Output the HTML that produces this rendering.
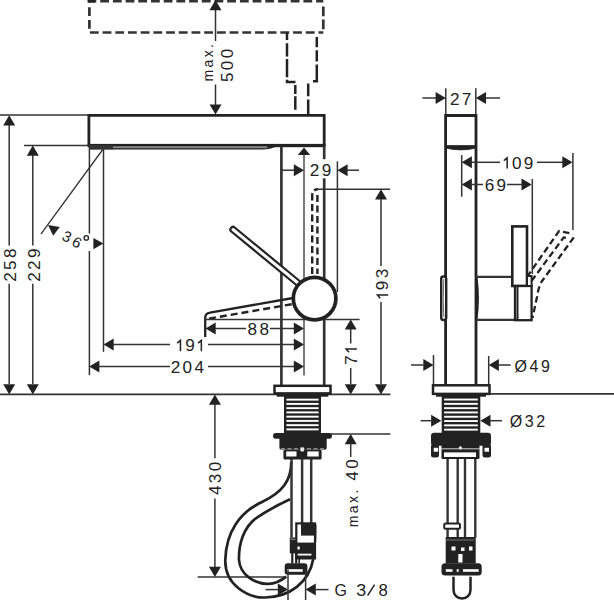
<!DOCTYPE html>
<html><head><meta charset="utf-8"><style>
html,body{margin:0;padding:0;background:#fff;}
svg{display:block;font-family:"Liberation Sans",sans-serif;-webkit-font-smoothing:antialiased;}
</style></head><body>
<svg width="614" height="600" viewBox="0 0 614 600">
<rect width="614" height="600" fill="#fff"/>
<line x1="87.5" y1="1.2" x2="323.3" y2="1.2" stroke="#333" stroke-width="2.7" stroke-dasharray="8.8 3.9"/>
<line x1="89.9" y1="32.5" x2="323.3" y2="32.5" stroke="#333" stroke-width="2.7" stroke-dasharray="8.8 3.9"/>
<line x1="89.4" y1="7.3" x2="89.4" y2="32" stroke="#333" stroke-width="2.7" stroke-dasharray="8.8 3.9"/>
<line x1="323.3" y1="6.5" x2="323.3" y2="32.5" stroke="#333" stroke-width="2.7" stroke-dasharray="9.8 3.2"/>
<rect x="88" y="0" width="7" height="2.6" fill="#222" stroke="none" stroke-width="0" rx="0" />
<path d="M287,32.5 V40 M287,43.2 V56.6 M287,59 V77.2 M287,79.8 V82 H295.5" stroke="#222" stroke-width="2.5" fill="none" />
<path d="M295.3,85 V94 M295.3,96.2 V109.7" stroke="#222" stroke-width="2.5" fill="none" />
<path d="M316.8,36.9 V47.2 M316.8,50.3 V61.4 M316.8,64.6 V81.3 H313" stroke="#222" stroke-width="2.5" fill="none" />
<path d="M308.2,83.5 V96.2 M308.2,99.4 V115" stroke="#222" stroke-width="2.5" fill="none" />
<line x1="215.5" y1="9" x2="215.5" y2="41" stroke="#333" stroke-width="1.5" />
<line x1="215.5" y1="84.5" x2="215.5" y2="105" stroke="#333" stroke-width="1.5" />
<polygon points="215.50,0.00 221.50,10.20 209.50,10.20" fill="#222"/>
<polygon points="215.50,114.60 209.50,104.40 221.50,104.40" fill="#222"/>
<text transform="translate(208.6,62.8) rotate(-90) scale(1.0,1)" x="1.20" y="3.95" text-anchor="middle" font-size="14" letter-spacing="2.4" fill="#222">max.</text>
<g transform="translate(226.4,65.4) rotate(-90)"><text transform="translate(-11.90,0) scale(1.1,1)" y="6.38" text-anchor="middle" font-size="15.6" fill="#222">5</text><text transform="translate(-0.00,0) scale(1.1,1)" y="6.38" text-anchor="middle" font-size="15.6" fill="#222">0</text><text transform="translate(11.90,0) scale(1.1,1)" y="6.38" text-anchor="middle" font-size="15.6" fill="#222">0</text></g>
<path d="M88.9,146 V115.3 H324.2 V146" stroke="#222" stroke-width="2.8" fill="none" />
<rect x="87.6" y="143.9" width="237.9" height="3.3" fill="#222" stroke="none" stroke-width="0" rx="0" />
<path d="M89,148.6 H262 Q271,148.6 279,144.5" stroke="#222" stroke-width="1.9" fill="none" />
<rect x="112" y="146.2" width="155" height="2.0" fill="#888" stroke="none" stroke-width="0" rx="0" />
<rect x="89" y="145" width="24" height="4.3" fill="#333" stroke="none" stroke-width="0" rx="0" />
<line x1="0" y1="115" x2="88.5" y2="115" stroke="#333" stroke-width="1.5" />
<line x1="9.2" y1="124" x2="9.2" y2="245.6" stroke="#333" stroke-width="1.5" />
<line x1="9.2" y1="283.7" x2="9.2" y2="384" stroke="#333" stroke-width="1.5" />
<polygon points="9.20,115.20 15.20,125.40 3.20,125.40" fill="#222"/>
<polygon points="9.20,394.50 3.20,384.30 15.20,384.30" fill="#222"/>
<g transform="translate(9.55,265.15) rotate(-90)"><text transform="translate(-11.90,0) scale(1.1,1)" y="6.38" text-anchor="middle" font-size="15.6" fill="#222">2</text><text transform="translate(-0.00,0) scale(1.1,1)" y="6.38" text-anchor="middle" font-size="15.6" fill="#222">5</text><text transform="translate(11.90,0) scale(1.1,1)" y="6.38" text-anchor="middle" font-size="15.6" fill="#222">8</text></g>
<line x1="24" y1="145.6" x2="88.5" y2="145.6" stroke="#333" stroke-width="1.5" />
<line x1="32.8" y1="155" x2="32.8" y2="245.6" stroke="#333" stroke-width="1.5" />
<line x1="32.8" y1="283.7" x2="32.8" y2="384" stroke="#333" stroke-width="1.5" />
<polygon points="32.80,145.60 38.80,155.80 26.80,155.80" fill="#222"/>
<polygon points="32.80,394.50 26.80,384.30 38.80,384.30" fill="#222"/>
<g transform="translate(33.2,265.15) rotate(-90)"><text transform="translate(-11.90,0) scale(1.1,1)" y="6.38" text-anchor="middle" font-size="15.6" fill="#222">2</text><text transform="translate(-0.00,0) scale(1.1,1)" y="6.38" text-anchor="middle" font-size="15.6" fill="#222">2</text><text transform="translate(11.90,0) scale(1.1,1)" y="6.38" text-anchor="middle" font-size="15.6" fill="#222">9</text></g>
<line x1="0" y1="394.4" x2="390.4" y2="394.4" stroke="#333" stroke-width="1.6" />
<line x1="331" y1="434" x2="390.4" y2="434" stroke="#333" stroke-width="1.5" />
<line x1="89.4" y1="147" x2="89.4" y2="233.5" stroke="#333" stroke-width="1.5" />
<line x1="89.4" y1="251" x2="89.4" y2="375.2" stroke="#333" stroke-width="1.5" />
<line x1="103.5" y1="148" x2="103.5" y2="351.8" stroke="#333" stroke-width="1.5" />
<line x1="103.5" y1="148.5" x2="40.9" y2="234.1" stroke="#333" stroke-width="1.3" />
<polygon points="48,225 59.8,227 53.2,235.8" fill="#222"/>
<polygon points="103.40,243.60 93.40,249.20 93.40,238.00" fill="#222"/>
<text transform="translate(67.2,236.1) rotate(25)" x="0" y="5.8" text-anchor="middle" font-size="15" fill="#222">3</text>
<text transform="translate(77.3,241.7) rotate(30)" x="0" y="5.8" text-anchor="middle" font-size="15" fill="#222">6</text>
<circle cx="86.3" cy="237.9" r="2.2" fill="none" stroke="#222" stroke-width="1.3"/>
<line x1="281.4" y1="147" x2="281.4" y2="386" stroke="#333" stroke-width="2.7" />
<line x1="324.2" y1="146" x2="324.2" y2="159.2" stroke="#333" stroke-width="2.7" />
<line x1="324.2" y1="178.3" x2="324.2" y2="386" stroke="#333" stroke-width="2.7" />
<line x1="304" y1="154" x2="304" y2="375.4" stroke="#333" stroke-width="1.3" />
<polygon points="304.00,147.60 310.20,155.10 297.80,155.10" fill="#222"/>
<line x1="281.4" y1="170.2" x2="294" y2="170.2" stroke="#333" stroke-width="1.5" />
<polygon points="304.00,170.20 293.80,176.20 293.80,164.20" fill="#222"/>
<polygon points="337.40,170.20 347.60,164.20 347.60,176.20" fill="#222"/>
<line x1="347" y1="170.2" x2="359" y2="170.2" stroke="#333" stroke-width="1.5" />
<line x1="337.4" y1="161.4" x2="337.4" y2="292" stroke="#333" stroke-width="1.5" />
<g transform="translate(320.55,169.8) rotate(0)"><text transform="translate(-5.95,0) scale(1.1,1)" y="6.38" text-anchor="middle" font-size="15.6" fill="#222">2</text><text transform="translate(5.95,0) scale(1.1,1)" y="6.38" text-anchor="middle" font-size="15.6" fill="#222">9</text></g>
<path d="M312.2,274 V196 Q312.2,189.3 318,189.3" stroke="#222" stroke-width="2.4" fill="none" stroke-dasharray="7 3.5"/>
<path d="M317.4,195 V274" stroke="#222" stroke-width="2.4" fill="none" stroke-dasharray="7 3.5"/>
<line x1="317" y1="189.2" x2="390" y2="189.2" stroke="#333" stroke-width="1.5" />
<polygon points="381.00,189.20 387.00,199.40 375.00,199.40" fill="#222"/>
<line x1="381" y1="199" x2="381" y2="266" stroke="#333" stroke-width="1.5" />
<line x1="381" y1="302" x2="381" y2="384" stroke="#333" stroke-width="1.5" />
<polygon points="381.00,394.50 375.00,384.30 387.00,384.30" fill="#222"/>
<g transform="translate(381.8,284) rotate(-90)"><path d="M-11.00,6.38 V-4.38 L-14.30,-1.58" stroke="#222" stroke-width="1.5" fill="none"/><text transform="translate(-1.45,0) scale(1.1,1)" y="6.38" text-anchor="middle" font-size="15.6" fill="#222">9</text><text transform="translate(10.45,0) scale(1.1,1)" y="6.38" text-anchor="middle" font-size="15.6" fill="#222">3</text></g>
<path d="M205.2,337 V318 Q205.2,313.2 210,312.6 L293,298" stroke="#222" stroke-width="2.3" fill="none" />
<path d="M209,318.6 L292,304.2" stroke="#222" stroke-width="2.4" fill="none" stroke-dasharray="7 4"/>
<line x1="205" y1="319.4" x2="359.6" y2="319.4" stroke="#333" stroke-width="1.5" />
<polygon points="350.70,319.40 356.70,329.60 344.70,329.60" fill="#222"/>
<line x1="350.7" y1="329" x2="350.7" y2="343.5" stroke="#333" stroke-width="1.5" />
<line x1="350.7" y1="368" x2="350.7" y2="384" stroke="#333" stroke-width="1.5" />
<polygon points="350.70,394.50 344.70,384.30 356.70,384.30" fill="#222"/>
<g transform="translate(350.5,355.8) rotate(-90)"><text transform="translate(-4.50,0) scale(1.1,1)" y="6.38" text-anchor="middle" font-size="15.6" fill="#222">7</text><path d="M6.85,6.38 V-4.38 L3.55,-1.58" stroke="#222" stroke-width="1.5" fill="none"/></g>
<line x1="233" y1="229.5" x2="298" y2="283" stroke="#222" stroke-width="7.4" stroke-linecap="round"/>
<line x1="233" y1="229.5" x2="298" y2="283" stroke="#fff" stroke-width="3.0" stroke-linecap="round"/>
<circle cx="314.6" cy="298.6" r="21.3" fill="#fff" stroke="#222" stroke-width="3.7"/>
<polygon points="205.50,328.50 215.70,322.50 215.70,334.50" fill="#222"/>
<line x1="215" y1="328.5" x2="246" y2="328.5" stroke="#333" stroke-width="1.5" />
<g transform="translate(258.3,328.65) rotate(0)"><text transform="translate(-5.95,0) scale(1.1,1)" y="6.38" text-anchor="middle" font-size="15.6" fill="#222">8</text><text transform="translate(5.95,0) scale(1.1,1)" y="6.38" text-anchor="middle" font-size="15.6" fill="#222">8</text></g>
<line x1="270" y1="328.5" x2="294" y2="328.5" stroke="#333" stroke-width="1.5" />
<polygon points="304.00,328.50 293.80,334.50 293.80,322.50" fill="#222"/>
<polygon points="103.50,344.60 113.70,338.60 113.70,350.60" fill="#222"/>
<line x1="113" y1="344.6" x2="170" y2="344.6" stroke="#333" stroke-width="1.5" />
<g transform="translate(190,344.75) rotate(0)"><path d="M-9.55,6.38 V-4.38 L-12.85,-1.58" stroke="#222" stroke-width="1.5" fill="none"/><text transform="translate(0.00,0) scale(1.1,1)" y="6.38" text-anchor="middle" font-size="15.6" fill="#222">9</text><path d="M11.35,6.38 V-4.38 L8.05,-1.58" stroke="#222" stroke-width="1.5" fill="none"/></g>
<line x1="208" y1="344.6" x2="294" y2="344.6" stroke="#333" stroke-width="1.5" />
<polygon points="304.00,344.60 293.80,350.60 293.80,338.60" fill="#222"/>
<polygon points="89.20,366.40 99.40,360.40 99.40,372.40" fill="#222"/>
<line x1="99" y1="366.4" x2="170" y2="366.4" stroke="#333" stroke-width="1.5" />
<g transform="translate(187.35,366.5) rotate(0)"><text transform="translate(-11.90,0) scale(1.1,1)" y="6.38" text-anchor="middle" font-size="15.6" fill="#222">2</text><text transform="translate(-0.00,0) scale(1.1,1)" y="6.38" text-anchor="middle" font-size="15.6" fill="#222">0</text><text transform="translate(11.90,0) scale(1.1,1)" y="6.38" text-anchor="middle" font-size="15.6" fill="#222">4</text></g>
<line x1="208" y1="366.4" x2="294" y2="366.4" stroke="#333" stroke-width="1.5" />
<polygon points="304.00,366.40 293.80,372.40 293.80,360.40" fill="#222"/>
<rect x="274.5" y="385.8" width="56" height="7.6" fill="#fff" stroke="#222" stroke-width="2.5" rx="0" />
<rect x="276.7" y="393.3" width="51.6" height="3.4" fill="#222" stroke="none" stroke-width="0" rx="0" />
<rect x="284" y="396" width="37" height="37.5" fill="#222" stroke="none" stroke-width="0" rx="0" />
<rect x="286.4" y="398.7" width="32.2" height="1.9" fill="#fff" stroke="none" stroke-width="0" rx="0" />
<rect x="286.4" y="402.95" width="32.2" height="1.9" fill="#fff" stroke="none" stroke-width="0" rx="0" />
<rect x="286.4" y="407.2" width="32.2" height="1.9" fill="#fff" stroke="none" stroke-width="0" rx="0" />
<rect x="286.4" y="411.45" width="32.2" height="1.9" fill="#fff" stroke="none" stroke-width="0" rx="0" />
<rect x="286.4" y="415.7" width="32.2" height="1.9" fill="#fff" stroke="none" stroke-width="0" rx="0" />
<rect x="286.4" y="419.95" width="32.2" height="1.9" fill="#fff" stroke="none" stroke-width="0" rx="0" />
<rect x="286.4" y="424.2" width="32.2" height="1.9" fill="#fff" stroke="none" stroke-width="0" rx="0" />
<rect x="286.4" y="428.45" width="32.2" height="1.9" fill="#fff" stroke="none" stroke-width="0" rx="0" />
<rect x="273.1" y="433.1" width="58.8" height="5.7" fill="#222" stroke="none" stroke-width="0" rx="2.5" />
<rect x="279.4" y="437" width="47.3" height="12.7" fill="#222" stroke="none" stroke-width="0" rx="2" />
<line x1="281" y1="448.9" x2="325" y2="448.9" stroke="#ccc" stroke-width="1" stroke-dasharray="4 2.5"/>
<rect x="283.4" y="449.7" width="38.2" height="9.7" fill="#222" stroke="none" stroke-width="0" rx="1.5" />
<rect x="286.2" y="451.4" width="10.3" height="5.1" fill="#fff" stroke="none" stroke-width="0" rx="0" />
<rect x="307.3" y="451.4" width="11.4" height="5.1" fill="#fff" stroke="none" stroke-width="0" rx="0" />
<ellipse cx="302.2" cy="455" rx="4.6" ry="2.6" fill="#222"/>
<rect x="300.5" y="447.4" width="3.4" height="4" fill="#eee" stroke="none" stroke-width="0" rx="0" />
<polygon points="350.70,434.00 356.70,444.20 344.70,444.20" fill="#222"/>
<line x1="350.7" y1="443" x2="350.7" y2="457" stroke="#333" stroke-width="1.5" />
<g transform="translate(351.3,470) rotate(-90)"><text transform="translate(-5.95,0) scale(1.1,1)" y="6.38" text-anchor="middle" font-size="15.6" fill="#222">4</text><text transform="translate(5.95,0) scale(1.1,1)" y="6.38" text-anchor="middle" font-size="15.6" fill="#222">0</text></g>
<text transform="translate(354.1,508.5) rotate(-90) scale(1.0,1)" x="1.20" y="3.95" text-anchor="middle" font-size="14" letter-spacing="2.4" fill="#222">max.</text>
<polygon points="214.90,394.60 220.90,404.80 208.90,404.80" fill="#222"/>
<line x1="214.9" y1="404" x2="214.9" y2="458.3" stroke="#333" stroke-width="1.5" />
<line x1="214.9" y1="498.5" x2="214.9" y2="567" stroke="#333" stroke-width="1.5" />
<polygon points="214.90,577.00 208.90,566.80 220.90,566.80" fill="#222"/>
<g transform="translate(214.5,478.4) rotate(-90)"><text transform="translate(-11.90,0) scale(1.1,1)" y="6.38" text-anchor="middle" font-size="15.6" fill="#222">4</text><text transform="translate(-0.00,0) scale(1.1,1)" y="6.38" text-anchor="middle" font-size="15.6" fill="#222">3</text><text transform="translate(11.90,0) scale(1.1,1)" y="6.38" text-anchor="middle" font-size="15.6" fill="#222">0</text></g>
<line x1="197.7" y1="577" x2="286" y2="577" stroke="#333" stroke-width="1.5" />
<path d="M291.3,462 C291.3,480 283,492 262,502 C240,512 226,532 225.3,560 C224.5,585 248,598 265,597.5 C290,597 309,582 313,560 C315,545 315.5,535 315,524" stroke="#222" stroke-width="2.7" fill="none" />
<path d="M290,499.3 C282,503 270,509 257.3,517.3 C243,527 238.5,545 239,560 C240,575 255,584 268.4,583.8 C276,583.6 282,580 286.3,576.6" stroke="#222" stroke-width="2.7" fill="none" />
<line x1="291.5" y1="459" x2="291.5" y2="537.4" stroke="#333" stroke-width="2.5" />
<line x1="302.1" y1="459" x2="302.1" y2="524" stroke="#333" stroke-width="2.5" />
<line x1="311.2" y1="459" x2="311.2" y2="524" stroke="#333" stroke-width="2.5" />
<rect x="296.3" y="523.4" width="18.7" height="35" fill="#fff" stroke="#222" stroke-width="2.2" rx="0" />
<rect x="301" y="523.4" width="14" height="12.2" fill="#222" stroke="none" stroke-width="0" rx="0" />
<rect x="296.3" y="542.6" width="18.7" height="15.8" fill="#222" stroke="none" stroke-width="0" rx="0" />
<rect x="297.5" y="553.7" width="14" height="1.8" fill="#fff" stroke="none" stroke-width="0" rx="0" />
<rect x="289.8" y="537.4" width="7" height="16" fill="#222" stroke="none" stroke-width="0" rx="0" />
<rect x="290.5" y="538.6" width="5" height="1.2" fill="#888" stroke="none" stroke-width="0" rx="0" />
<rect x="297.5" y="546.5" width="2.2" height="3" fill="#fff" stroke="none" stroke-width="0" rx="0" />
<line x1="292.3" y1="553" x2="292.3" y2="563.5" stroke="#222" stroke-width="2.2" />
<line x1="296.2" y1="553" x2="296.2" y2="563.5" stroke="#222" stroke-width="2.2" />
<line x1="299.2" y1="556" x2="299.2" y2="563.5" stroke="#222" stroke-width="1.6" />
<rect x="284.7" y="563.2" width="22.7" height="11.5" fill="#222" stroke="none" stroke-width="0" rx="3" />
<rect x="287" y="569.2" width="15.7" height="2.6" fill="#fff" stroke="none" stroke-width="0" rx="0" />
<line x1="288" y1="569.4" x2="288" y2="600" stroke="#333" stroke-width="1.5" />
<line x1="305.6" y1="569.4" x2="305.6" y2="600" stroke="#333" stroke-width="1.5" />
<line x1="265.5" y1="589.6" x2="278" y2="589.6" stroke="#333" stroke-width="1.5" />
<polygon points="288.00,589.60 277.80,595.60 277.80,583.60" fill="#222"/>
<polygon points="305.60,589.60 315.80,583.60 315.80,595.60" fill="#222"/>
<line x1="316" y1="589.6" x2="328.5" y2="589.6" stroke="#333" stroke-width="1.5" />
<text transform="translate(334.6,595.8)" font-size="16" fill="#222">G</text>
<text transform="translate(356.2,595.8) scale(1.12,1)" font-size="16" fill="#222">3</text>
<path d="M367.6,595.6 L374.6,584.6" stroke="#222" stroke-width="1.5" fill="none"/>
<text transform="translate(378.6,595.8) scale(1.05,1)" font-size="16" fill="#222">8</text>
<line x1="445.8" y1="88.3" x2="445.8" y2="115" stroke="#333" stroke-width="1.5" />
<line x1="475.8" y1="88.3" x2="475.8" y2="115" stroke="#333" stroke-width="1.5" />
<line x1="422.5" y1="98" x2="436" y2="98" stroke="#333" stroke-width="1.5" />
<polygon points="445.80,98.00 435.60,104.00 435.60,92.00" fill="#222"/>
<polygon points="475.80,98.00 486.00,92.00 486.00,104.00" fill="#222"/>
<line x1="486" y1="98" x2="500" y2="98" stroke="#333" stroke-width="1.5" />
<g transform="translate(460.65,98.15) rotate(0)"><text transform="translate(-5.95,0) scale(1.1,1)" y="6.38" text-anchor="middle" font-size="15.6" fill="#222">2</text><text transform="translate(5.95,0) scale(1.1,1)" y="6.38" text-anchor="middle" font-size="15.6" fill="#222">7</text></g>
<path d="M445.6,386 V115.5 H476 V386" stroke="#222" stroke-width="2.8" fill="none" />
<path d="M445.6,145.6 H476 V148 Q461,151.8 445.6,148 Z" stroke="#222" stroke-width="0.8" fill="#222" />
<line x1="461.7" y1="155" x2="461.7" y2="196.7" stroke="#333" stroke-width="1.5" />
<polygon points="461.70,162.30 471.90,156.30 471.90,168.30" fill="#222"/>
<line x1="471" y1="162.3" x2="500" y2="162.3" stroke="#333" stroke-width="1.5" />
<g transform="translate(518.15,162.2) rotate(0)"><path d="M-11.00,6.38 V-4.38 L-14.30,-1.58" stroke="#222" stroke-width="1.5" fill="none"/><text transform="translate(-1.45,0) scale(1.1,1)" y="6.38" text-anchor="middle" font-size="15.6" fill="#222">0</text><text transform="translate(10.45,0) scale(1.1,1)" y="6.38" text-anchor="middle" font-size="15.6" fill="#222">9</text></g>
<line x1="537" y1="162.3" x2="563" y2="162.3" stroke="#333" stroke-width="1.5" />
<polygon points="572.50,162.30 562.30,168.30 562.30,156.30" fill="#222"/>
<line x1="572.9" y1="153" x2="572.9" y2="230" stroke="#333" stroke-width="1.5" />
<polygon points="461.70,184.50 471.90,178.50 471.90,190.50" fill="#222"/>
<line x1="471" y1="184.5" x2="483" y2="184.5" stroke="#333" stroke-width="1.5" />
<g transform="translate(495.35,184.2) rotate(0)"><text transform="translate(-5.95,0) scale(1.1,1)" y="6.38" text-anchor="middle" font-size="15.6" fill="#222">6</text><text transform="translate(5.95,0) scale(1.1,1)" y="6.38" text-anchor="middle" font-size="15.6" fill="#222">9</text></g>
<line x1="507" y1="184.5" x2="522" y2="184.5" stroke="#333" stroke-width="1.5" />
<polygon points="531.70,184.50 521.50,190.50 521.50,178.50" fill="#222"/>
<line x1="532.3" y1="179" x2="532.3" y2="274" stroke="#333" stroke-width="1.5" />
<rect x="441.2" y="276.5" width="5" height="43.5" fill="#fff" stroke="#222" stroke-width="2.4" rx="2.2" />
<path d="M443.8,279 Q442.6,298 443.8,317" stroke="#666" stroke-width="1.0" fill="none" />
<path d="M476.5,277 Q479.5,298 476.5,319.5" stroke="#222" stroke-width="1.9" fill="none" />
<line x1="476" y1="276.9" x2="513" y2="276.9" stroke="#333" stroke-width="2.3" />
<line x1="476" y1="319.8" x2="516" y2="319.8" stroke="#333" stroke-width="2.3" />
<rect x="512.3" y="226.4" width="14.7" height="59.6" fill="#fff" stroke="#222" stroke-width="2.6" rx="0" />
<rect x="515" y="286" width="16.6" height="34.2" fill="#fff" stroke="#222" stroke-width="2.3" rx="0" />
<path d="M517.5,286 V320" stroke="#222" stroke-width="2.0" fill="none" />
<rect x="527" y="276" width="4.6" height="10" fill="#fff" stroke="#222" stroke-width="2.0" rx="0" />
<path d="M527,276.9 L559.1,231 L572.9,233.8" stroke="#222" stroke-width="2.3" fill="none" stroke-dasharray="6.5 3.5"/>
<path d="M531.5,281 L563.7,237.4 L569.2,238.3" stroke="#222" stroke-width="2.3" fill="none" stroke-dasharray="6.5 3.5"/>
<path d="M573.8,237.4 L541.7,281.5 Q538.5,287 537,297 L532.5,318" stroke="#222" stroke-width="2.3" fill="none" stroke-dasharray="6.5 3.5"/>
<line x1="433.5" y1="355" x2="433.5" y2="386" stroke="#333" stroke-width="1.5" />
<line x1="488.7" y1="356" x2="488.7" y2="386" stroke="#333" stroke-width="1.5" />
<line x1="411" y1="365" x2="423.5" y2="365" stroke="#333" stroke-width="1.5" />
<polygon points="433.50,365.00 423.30,371.00 423.30,359.00" fill="#222"/>
<polygon points="488.70,365.00 498.90,359.00 498.90,371.00" fill="#222"/>
<line x1="498" y1="365" x2="510.7" y2="365" stroke="#333" stroke-width="1.5" />
<text transform="translate(514.4,372.2)" font-size="16" letter-spacing="2.6" fill="#222">Ø49</text>
<rect x="433" y="385.3" width="56.5" height="8.6" fill="#fff" stroke="#222" stroke-width="2.5" rx="0" />
<rect x="436" y="393.6" width="50" height="3.1" fill="#222" stroke="none" stroke-width="0" rx="0" />
<line x1="489" y1="393.9" x2="614" y2="393.9" stroke="#333" stroke-width="1.6" />
<rect x="441.7" y="396" width="38.6" height="37" fill="#222" stroke="none" stroke-width="0" rx="0" />
<rect x="444.1" y="398.6" width="33.7" height="1.9" fill="#fff" stroke="none" stroke-width="0" rx="0" />
<rect x="444.1" y="402.90000000000003" width="33.7" height="1.9" fill="#fff" stroke="none" stroke-width="0" rx="0" />
<rect x="444.1" y="407.20000000000005" width="33.7" height="1.9" fill="#fff" stroke="none" stroke-width="0" rx="0" />
<rect x="444.1" y="411.5" width="33.7" height="1.9" fill="#fff" stroke="none" stroke-width="0" rx="0" />
<rect x="444.1" y="415.8" width="33.7" height="1.9" fill="#fff" stroke="none" stroke-width="0" rx="0" />
<rect x="444.1" y="420.1" width="33.7" height="1.9" fill="#fff" stroke="none" stroke-width="0" rx="0" />
<rect x="444.1" y="424.40000000000003" width="33.7" height="1.9" fill="#fff" stroke="none" stroke-width="0" rx="0" />
<rect x="444.1" y="428.70000000000005" width="33.7" height="1.9" fill="#fff" stroke="none" stroke-width="0" rx="0" />
<line x1="420.6" y1="420.7" x2="431" y2="420.7" stroke="#333" stroke-width="1.5" />
<polygon points="441.30,420.70 431.10,426.70 431.10,414.70" fill="#222"/>
<polygon points="480.30,420.70 490.50,414.70 490.50,426.70" fill="#222"/>
<line x1="490" y1="420.7" x2="502" y2="420.7" stroke="#333" stroke-width="1.5" />
<text transform="translate(509.8,427)" font-size="16" letter-spacing="2.6" fill="#222">Ø32</text>
<rect x="431" y="432.8" width="60" height="13" fill="#222" stroke="none" stroke-width="0" rx="3" />
<rect x="431" y="444" width="8" height="13.6" fill="#222" stroke="none" stroke-width="0" rx="2.5" />
<rect x="482.5" y="444" width="8.5" height="13.6" fill="#222" stroke="none" stroke-width="0" rx="2.5" />
<rect x="433.7" y="447.8" width="4.5" height="3.9" fill="#fff" stroke="none" stroke-width="0" rx="0" />
<rect x="484.5" y="447.8" width="4.5" height="3.9" fill="#fff" stroke="none" stroke-width="0" rx="0" />
<rect x="441.5" y="444" width="38" height="15" fill="#222" stroke="none" stroke-width="0" rx="1" />
<rect x="444" y="452.4" width="32" height="4.6" fill="#fff" stroke="none" stroke-width="0" rx="0" />
<line x1="441" y1="448.8" x2="480" y2="448.8" stroke="#ccc" stroke-width="1" />
<circle cx="460.4" cy="447.8" r="1.6" fill="#eee"/>
<line x1="447.6" y1="459" x2="447.6" y2="537.7" stroke="#333" stroke-width="2.4" />
<line x1="457.7" y1="459" x2="457.7" y2="537.7" stroke="#333" stroke-width="2.4" />
<line x1="465" y1="459" x2="465" y2="537.7" stroke="#333" stroke-width="2.4" />
<line x1="475.3" y1="459" x2="475.3" y2="537.7" stroke="#333" stroke-width="2.4" />
<rect x="444.2" y="523.5" width="15.8" height="5.2" fill="#fff" stroke="#222" stroke-width="2" rx="1.5" />
<rect x="445.7" y="537" width="30" height="26.5" fill="#222" stroke="none" stroke-width="0" rx="0" />
<rect x="451.5" y="546.5" width="4" height="4" fill="#fff" stroke="none" stroke-width="0" rx="0" />
<rect x="461" y="547.5" width="3.5" height="3.5" fill="#fff" stroke="none" stroke-width="0" rx="0" />
<rect x="469" y="546.5" width="3.5" height="4" fill="#fff" stroke="none" stroke-width="0" rx="0" />
<rect x="458.3" y="554" width="4.2" height="8.5" fill="#fff" stroke="none" stroke-width="0" rx="0" />
<line x1="446" y1="540" x2="474" y2="540" stroke="#777" stroke-width="1" />
<rect x="441.5" y="563.3" width="40.2" height="12.3" fill="#222" stroke="none" stroke-width="0" rx="3.5" />
<rect x="445.8" y="569.2" width="6.7" height="2.6" fill="#fff" stroke="none" stroke-width="0" rx="0" />
<rect x="463" y="569.2" width="15.7" height="2.6" fill="#fff" stroke="none" stroke-width="0" rx="0" />
<rect x="456.7" y="569.2" width="2" height="2.6" fill="#fff" stroke="none" stroke-width="0" rx="0" />
<path d="M453.5,576.7 V590 A8.5,8.5 0 0 0 470.5,590 V576.7" stroke="#222" stroke-width="2.5" fill="none" />
</svg></body></html>
